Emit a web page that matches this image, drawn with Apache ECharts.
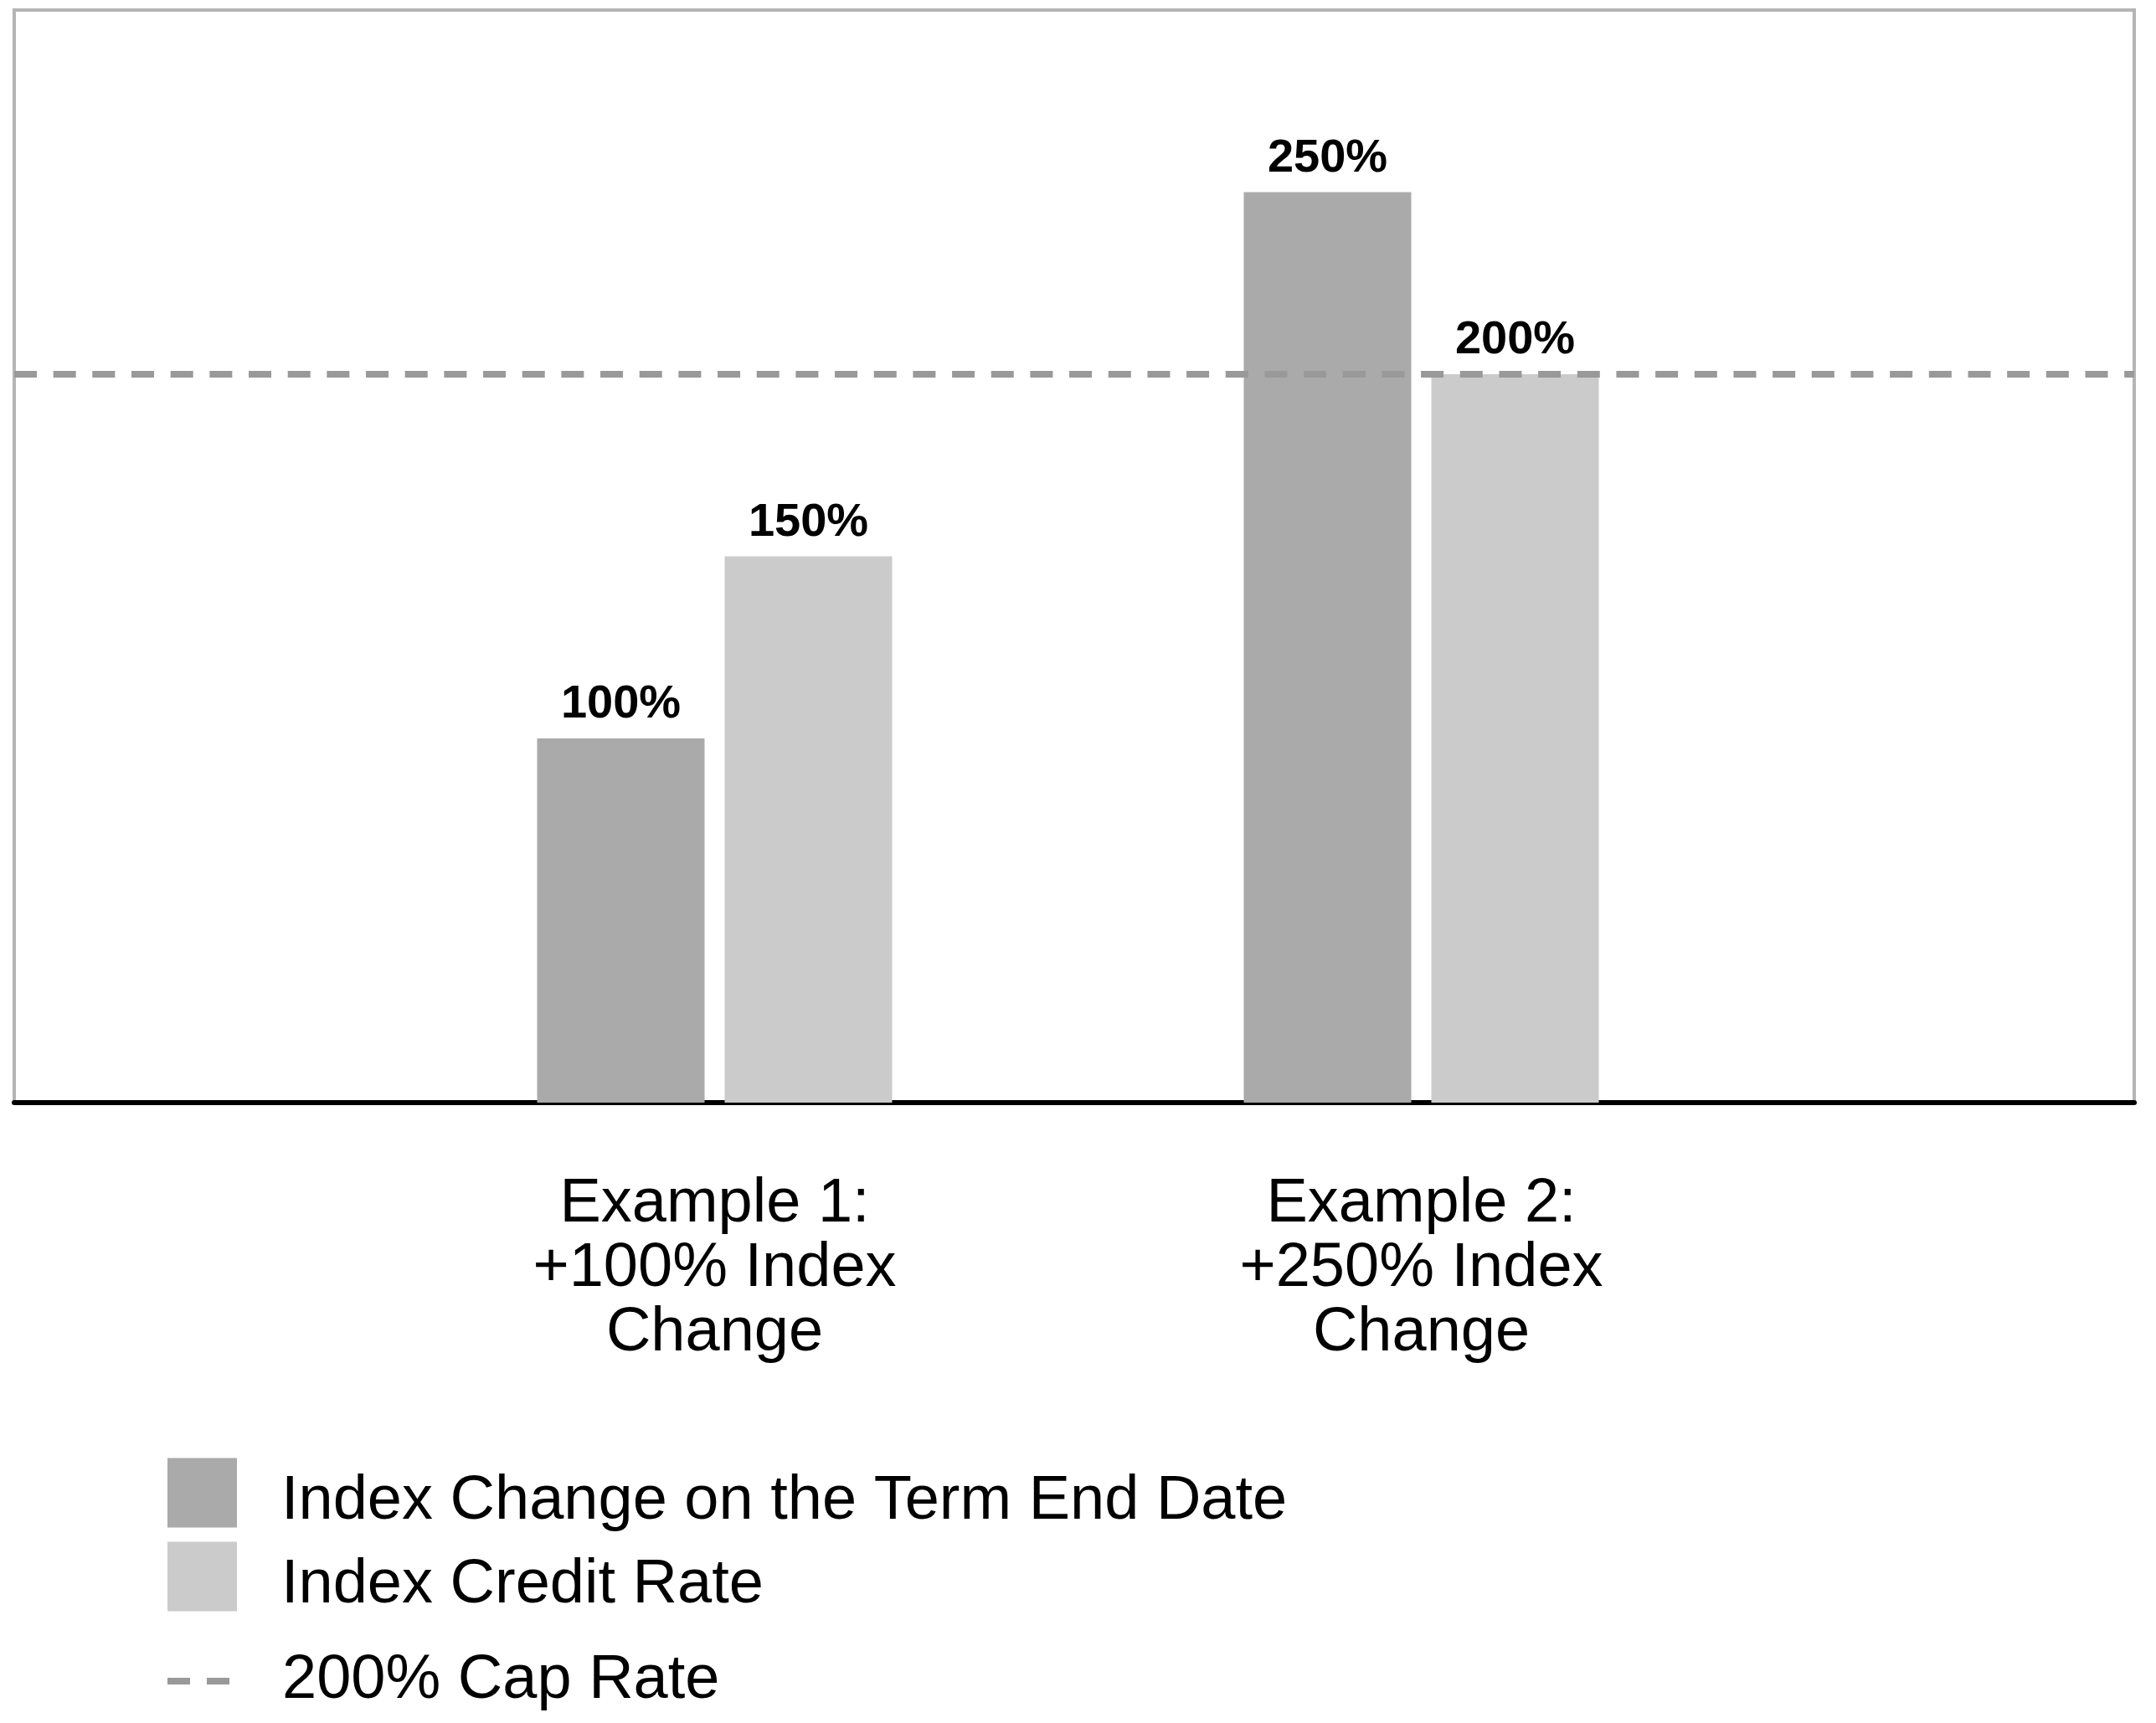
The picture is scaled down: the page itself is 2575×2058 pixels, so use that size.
<!DOCTYPE html>
<html>
<head>
    <meta charset="UTF-8">
    <title>Cap Rate Examples</title>
    <script src="https://cdn.jsdelivr.net/npm/echarts@6/dist/echarts.min.js"></script>
    <style>
        html, body { margin: 0; padding: 0; background: #fff; }
        #chart { width: 2575px; height: 2058px; }
    </style>
</head>
<body>
<div id="chart"></div>
<script>
    // padded with empty slots so the two examples sit at 1/3 and 2/3 of the frame
    const categories = ['', 'Example 1:\n+100% Index\nChange', 'Example 2:\n+250% Index\nChange', '']
    const indexChange = [null, 100, 250, null]
    const creditRate = [null, 150, 200, null]
    const capRate = 200
    const seriesNames = ['Index Change on the Term End Date', 'Index Credit Rate', '200% Cap Rate']

    const FONT = 'Liberation Sans'
    const DARK = '#aaaaaa'
    const LIGHT = '#cbcbcb'
    const DASH = '#999999'

    let chart = echarts.init(document.getElementById('chart'), null, {renderer: 'canvas'})

    let barLabel = {
        show: true,
        position: 'top',
        distance: 12,
        formatter: '{c}%',
        fontFamily: FONT,
        fontWeight: 'bold',
        fontSize: 56,
        color: '#000'
    }

    let legendText = {
        fontFamily: FONT,
        fontSize: 74,
        color: '#000'
    }
    // rich token so the label can sit a little below the swatch centre
    let swatchText = Object.assign({
        rich: {t: Object.assign({lineHeight: 60, padding: [22, 0, 0, 48]}, legendText)}
    }, legendText)

    chart.setOption({
        animation: false,
        backgroundColor: '#fff',
        grid: [
            // bars sit a few px left of the frame's thirds
            {left: 9.5, right: 33.5, top: 12, bottom: 741},
            // the frame, baseline and cap line
            {
                left: 17, right: 26, top: 12, bottom: 741,
                show: true,
                borderColor: '#b5b5b5',
                borderWidth: 4,
                backgroundColor: 'transparent'
            }
        ],
        xAxis: [
            {
                type: 'category',
                gridIndex: 0,
                data: categories,
                boundaryGap: false,
                axisLine: {show: false},
                axisTick: {show: false},
                axisLabel: {
                    interval: 0,
                    margin: 83,
                    fontFamily: FONT,
                    fontSize: 74,
                    lineHeight: 77,
                    color: '#000',
                    align: 'center'
                },
                splitLine: {show: false}
            },
            {
                type: 'category',
                gridIndex: 1,
                data: categories,
                boundaryGap: false,
                axisLine: {lineStyle: {color: '#000', width: 6}},
                axisTick: {show: false},
                axisLabel: {show: false},
                splitLine: {show: false}
            }
        ],
        yAxis: [
            {type: 'value', gridIndex: 0, min: 0, max: 300, show: false},
            {type: 'value', gridIndex: 1, min: 0, max: 300, show: false}
        ],
        legend: [
            {
                data: [{name: seriesNames[0], icon: 'rect'}],
                left: 200, top: 1735, padding: 0,
                itemWidth: 83, itemHeight: 83,
                selectedMode: false,
                formatter: '{t|{name}}',
                textStyle: swatchText
            },
            {
                data: [{name: seriesNames[1], icon: 'rect'}],
                left: 200, top: 1835, padding: 0,
                itemWidth: 83, itemHeight: 83,
                selectedMode: false,
                formatter: '{t|{name}}',
                textStyle: swatchText
            },
            {
                data: [{name: seriesNames[2], icon: 'path://M0 0H27V8H0Z M47 0H74V8H47Z'}],
                left: 200, top: 1971, padding: 0,
                itemWidth: 74, itemHeight: 8,
                selectedMode: false,
                textStyle: Object.assign({padding: [0, 0, 9, 58]}, legendText)
            }
        ],
        series: [
            {
                name: seriesNames[0],
                type: 'bar',
                xAxisIndex: 0, yAxisIndex: 0,
                data: indexChange,
                barWidth: 200,
                barGap: '12%',
                itemStyle: {color: DARK},
                label: barLabel,
                silent: true
            },
            {
                name: seriesNames[1],
                type: 'bar',
                xAxisIndex: 0, yAxisIndex: 0,
                data: creditRate,
                barWidth: 200,
                itemStyle: {color: LIGHT},
                label: barLabel,
                silent: true
            },
            {
                name: seriesNames[2],
                type: 'line',
                xAxisIndex: 1, yAxisIndex: 1,
                data: [],
                color: DASH,
                itemStyle: {color: DASH},
                lineStyle: {color: DASH, width: 8, type: [27, 19.67]},
                markLine: {
                    silent: true,
                    symbol: 'none',
                    label: {show: false},
                    lineStyle: {color: DASH, width: 8, type: [27, 19.67]},
                    data: [{yAxis: capRate}]
                }
            }
        ]
    })
</script>
</body>
</html>
